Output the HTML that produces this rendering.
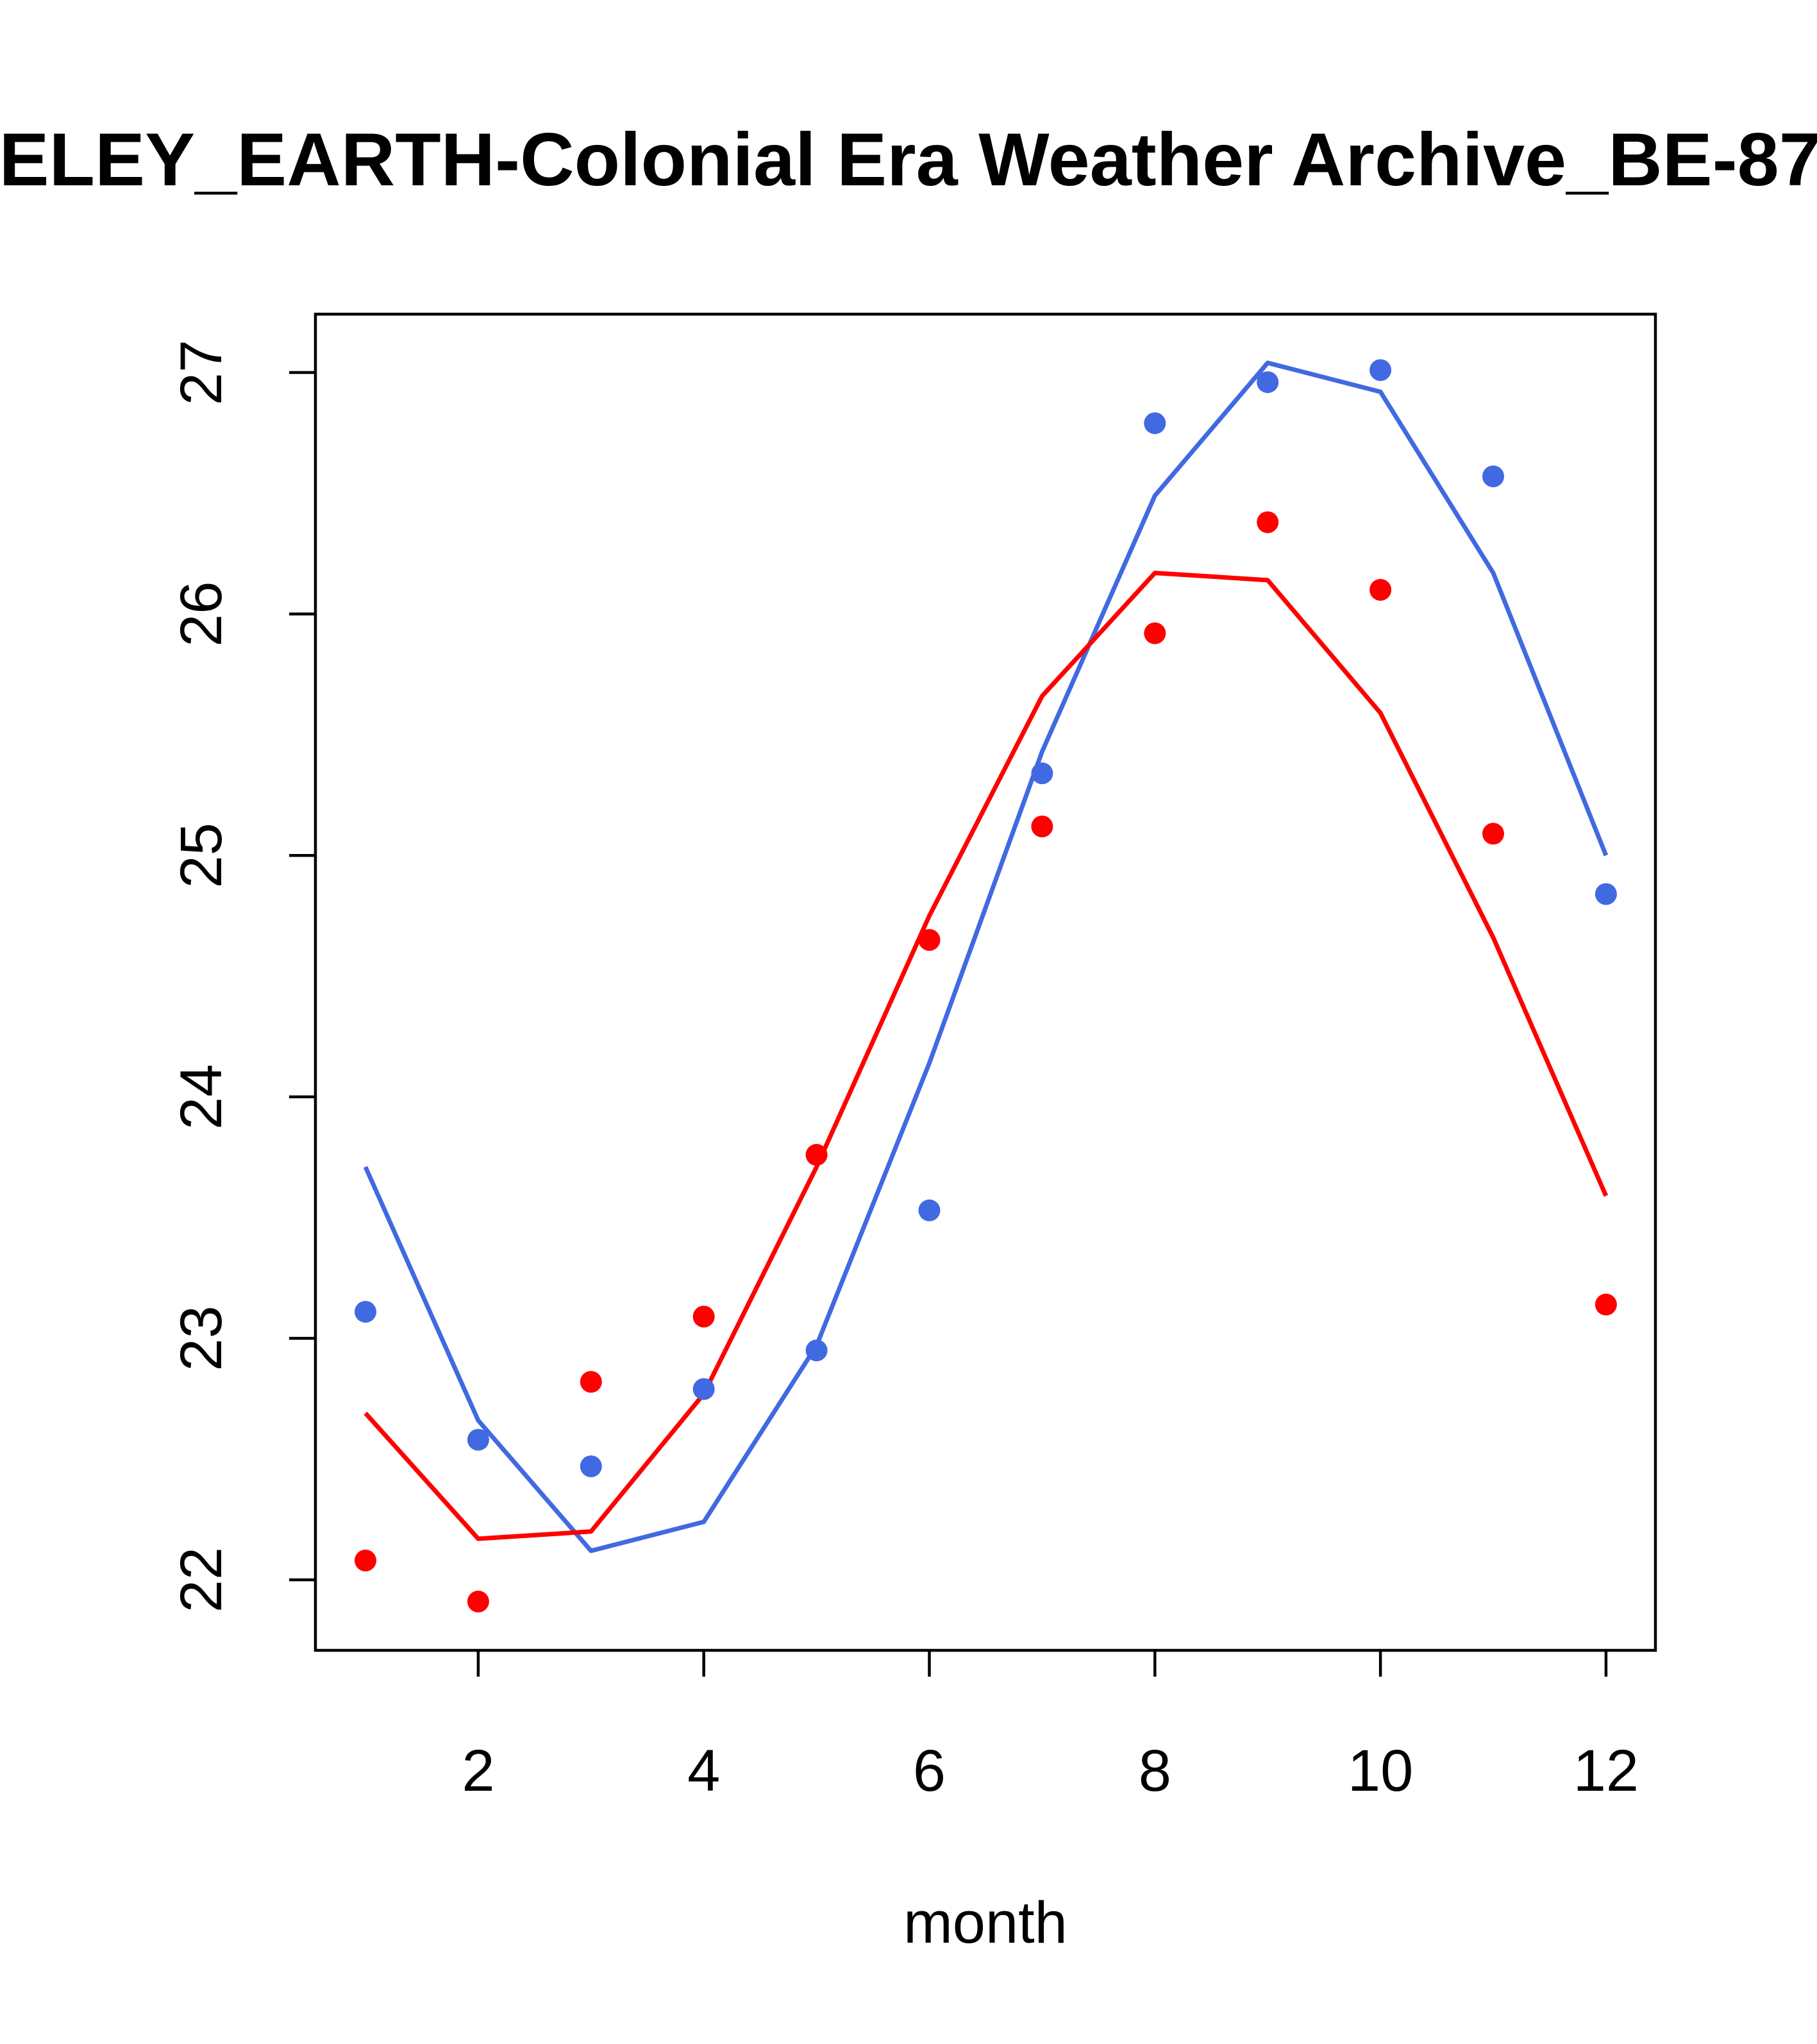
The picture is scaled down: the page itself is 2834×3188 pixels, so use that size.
<!DOCTYPE html>
<html><head><meta charset="utf-8"><style>html,body{margin:0;padding:0;background:#fff}svg{display:block}</style></head>
<body>
<svg id="chart" width="2834" height="3188" viewBox="0 0 2834 3188" xmlns="http://www.w3.org/2000/svg" font-family="Liberation Sans, sans-serif">
<text x="-333" y="289" font-size="117" font-weight="bold" text-anchor="start">BERKELEY_EARTH-Colonial Era Weather Archive_BE-8734</text>
<rect x="492" y="490" width="2090" height="2084" fill="none" stroke="#000" stroke-width="4.5"/>
<g id="axes"></g>
<g id="marks"></g>
<text x="1537" y="3030" font-size="92" text-anchor="middle">month</text>
</svg>
<script>
const months = [1,2,3,4,5,6,7,8,9,10,11,12];
const bluePoints = [23.11,22.58,22.47,22.79,22.95,23.53,25.34,26.79,26.96,27.01,26.57,24.84];
const blueLine = [23.71,22.66,22.12,22.24,22.97,24.14,25.43,26.49,27.04,26.92,26.17,25.00];
const redPoints = [22.08,21.91,22.82,23.09,23.76,24.65,25.12,25.92,26.38,26.10,25.09,23.14];
const redLine = [22.69,22.17,22.20,22.77,23.71,24.75,25.66,26.17,26.14,25.59,24.66,23.59];
const xTicks = [2,4,6,8,10,12];
const yTicks = [22,23,24,25,26,27];

const NS = 'http://www.w3.org/2000/svg';
function xs(m){return 570 + (m-1)*175.9;}
function ys(v){return 2464 - (v-22)*376.6;}
function mk(tag, attrs, parent){const e=document.createElementNS(NS,tag);for(const k in attrs)e.setAttribute(k,attrs[k]);parent.appendChild(e);return e;}
const axes=document.getElementById('axes'), marks=document.getElementById('marks');

xTicks.forEach(t=>{
  const l=mk('line',{x1:xs(t),x2:xs(t),y1:2574,y2:2615,stroke:'#000','stroke-width':4.5},axes);
  
  
  const tx=mk('text',{x:xs(t),y:2793,'font-size':92,'text-anchor':'middle'},axes);
  tx.textContent=t;
  
  
});
yTicks.forEach(t=>{
  const l=mk('line',{x1:451,x2:492,y1:ys(t),y2:ys(t),stroke:'#000','stroke-width':4.5},axes);
  
  
  const tx=mk('text',{x:0,y:0,'font-size':92,'text-anchor':'middle',transform:`translate(345,${ys(t)}) rotate(-90)`},axes);
  tx.textContent=t;
  
  
});

function line(vals,color,name){
  const p=mk('polyline',{points:vals.map((v,i)=>xs(months[i])+','+ys(v)).join(' '),fill:'none',stroke:color,'stroke-width':7,'stroke-linejoin':'round'},marks);
  
  
}
function pts(vals,color,name){
  vals.forEach((v,i)=>{
    const c=mk('circle',{cx:xs(months[i]),cy:ys(v),r:17,fill:color},marks);
    
    
  });
}
line(blueLine,'#4169E1','blue-fit-line');
line(redLine,'#FF0000','red-fit-line');
pts(bluePoints,'#4169E1','blue-point');
pts(redPoints,'#FF0000','red-point');
</script>
</body></html>
